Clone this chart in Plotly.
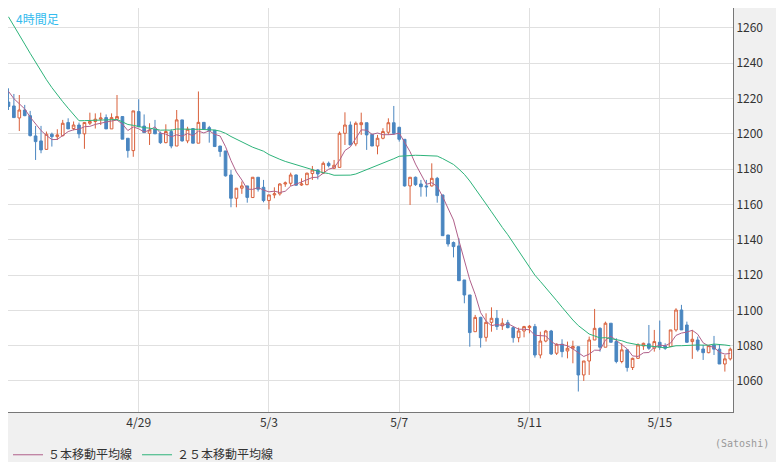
import pandas as pd
from plotly import graph_objects as go

# 4-hour candles, first one at 2024-04-25 00:00
start = "2024-04-25 00:00"

opens = [
    1218, 1215.8, 1209, 1213.5, 1210.3, 1198.8, 1196, 1191.2, 1199.8, 1198.4,
    1199, 1206.4, 1203, 1205, 1200, 1206, 1207, 1208.3, 1209.2, 1202.8,
    1208.3, 1209.8, 1197.5, 1190.5, 1212.6, 1204.4, 1200.3, 1202.6, 1200.3, 1195,
    1201.3, 1193.1, 1207.9, 1196, 1203, 1194.7, 1206.5, 1203.5, 1202, 1193.1,
    1190.3, 1176.7, 1163.5, 1169.2, 1170.5, 1163.9, 1175.4, 1169.7, 1162.2, 1165.4,
    1166, 1171.6, 1172, 1176.7, 1171, 1171.2, 1177.5, 1179.5, 1177.7, 1183.3,
    1180.5, 1181, 1200.3, 1205, 1194.3, 1205.2, 1206.3, 1199.7, 1193.1, 1197.5,
    1200.9, 1206.3, 1203.7, 1196.9, 1170.5, 1175.4, 1171.6, 1170.5, 1170.5, 1174.8,
    1165.4, 1142.7, 1138.4, 1136.5, 1117.2, 1108.7, 1087.9, 1096, 1084.7, 1093.2,
    1095.5, 1091.2, 1093, 1090.2, 1084.5, 1088.3, 1090.2, 1090.8, 1074.7, 1082.6,
    1088.3, 1075.7, 1080.8, 1077, 1078.5, 1079.4, 1063.4, 1071.3, 1083.2, 1089.8,
    1079.1, 1092.7, 1082.3, 1071, 1077.6, 1067.6, 1072.8, 1079.8, 1081, 1078.5,
    1081.9, 1079.8, 1079.5, 1088.9, 1100.2, 1091.7, 1082.3, 1083.2, 1078.1, 1076,
    1080.4, 1078, 1069.6, 1072.5,
]
highs = [
    1225.8, 1222.6, 1222, 1216.4, 1213, 1204.5, 1204.5, 1201.3, 1200.7, 1202.6,
    1207.9, 1208.8, 1207, 1206.4, 1206.4, 1212, 1211.6, 1212, 1211, 1211.6,
    1222, 1209.8, 1197.5, 1213, 1219.6, 1211, 1206, 1207.9, 1201.3, 1205.4,
    1202.6, 1213.5, 1207.9, 1204, 1203, 1224, 1206.5, 1204.5, 1202, 1193.1,
    1190.3, 1179.5, 1169.2, 1173, 1170.5, 1175.4, 1175.4, 1173.9, 1165.4, 1169.7,
    1172, 1173, 1178, 1177, 1174.8, 1178, 1181.8, 1180, 1184.3, 1184.3,
    1185.2, 1201.3, 1212.2, 1207, 1207, 1212, 1206.3, 1199.7, 1199.4, 1203.2,
    1208.8, 1215.8, 1204, 1196.9, 1175.4, 1175.8, 1173.9, 1173.9, 1183.3, 1175.6,
    1165.4, 1142.7, 1139, 1140.8, 1117.2, 1108.7, 1097.4, 1096.4, 1098.3, 1101.7,
    1100.2, 1095.5, 1094.6, 1090.8, 1090.2, 1091.2, 1091.7, 1092.3, 1087.9, 1088.9,
    1088.9, 1081.3, 1083.6, 1082.3, 1082.8, 1079.4, 1071.3, 1085.1, 1100.8, 1090.4,
    1093.6, 1092.7, 1084.2, 1081.3, 1077.6, 1073.2, 1081.3, 1081.7, 1091.7, 1088.9,
    1094.2, 1081.3, 1088.9, 1101.2, 1103.1, 1093.6, 1088.9, 1085.1, 1080.4, 1080.4,
    1085.5, 1080.4, 1074.7, 1078.9,
]
lows = [
    1213.5, 1209, 1201.6, 1210, 1198.5, 1185.2, 1189, 1191, 1192.8, 1196.5,
    1198.5, 1202.8, 1202, 1197.5, 1191.5, 1205, 1203, 1205, 1202.8, 1202.8,
    1208, 1197, 1186.5, 1187, 1204, 1200.7, 1193.7, 1200, 1194.3, 1194.7,
    1191.8, 1193.1, 1195.6, 1194.7, 1194.7, 1194.7, 1202.2, 1195, 1192.8, 1187,
    1175.8, 1158.4, 1158.4, 1166, 1161, 1163.9, 1167.3, 1161.2, 1157.2, 1163.5,
    1165, 1170, 1170.5, 1170.5, 1170.5, 1170.9, 1173.9, 1174.2, 1177.3, 1181,
    1180, 1181, 1193.7, 1193.7, 1193, 1199.4, 1190.9, 1193.1, 1188.4, 1196.9,
    1199.4, 1199.4, 1195.6, 1170.1, 1159.7, 1170.5, 1164.4, 1164.4, 1170.1, 1161,
    1142.3, 1136.1, 1130, 1116.8, 1104, 1079.4, 1087.9, 1078.9, 1082.3, 1087.9,
    1088.9, 1088.9, 1089.8, 1081.7, 1081.9, 1084.7, 1087, 1073.2, 1072.8, 1081.9,
    1074.7, 1074.7, 1073.4, 1072.8, 1070, 1054, 1060, 1063.4, 1083.2, 1076.6,
    1079.1, 1081.9, 1070, 1070, 1065.3, 1066.2, 1072.5, 1077.6, 1077.6, 1076.6,
    1077.6, 1077.6, 1079.5, 1087.9, 1088.9, 1081.7, 1072.5, 1076.6, 1071.9, 1075.7,
    1074.7, 1069.6, 1065.3, 1071.6,
]
closes = [
    1215.5, 1209.2, 1213.5, 1210.3, 1199, 1195.6, 1190.9, 1199.8, 1198.4, 1199.4,
    1206, 1202.8, 1205, 1200, 1206.4, 1207, 1208.3, 1209, 1202.8, 1209.2,
    1209.8, 1197, 1190.5, 1213, 1204, 1200.7, 1202.2, 1200, 1195, 1201.3,
    1193.1, 1207.9, 1196, 1202.6, 1194.7, 1206.5, 1202.8, 1201.8, 1192.8, 1190,
    1176.2, 1163.5, 1169.2, 1170.5, 1164, 1175.4, 1168.6, 1162.2, 1165.4, 1166,
    1171.6, 1172.2, 1176.7, 1170.9, 1171.6, 1177.7, 1179.5, 1177.3, 1183.3, 1182,
    1182.2, 1200.3, 1205, 1193.7, 1206, 1206.3, 1199.4, 1193.1, 1197.5, 1201.3,
    1206.3, 1200.3, 1196.9, 1170.5, 1175.4, 1171.2, 1170, 1170, 1174.8, 1165,
    1142.3, 1137.6, 1136.1, 1116.8, 1108.7, 1087.4, 1096, 1084.5, 1093.2, 1095.5,
    1090.8, 1092.7, 1090.2, 1084.5, 1088.3, 1090.8, 1091, 1074.7, 1082.6, 1088.3,
    1075.3, 1080.8, 1076.6, 1078.5, 1079.5, 1063.4, 1071.3, 1083.2, 1089.8, 1079.1,
    1092.7, 1081.9, 1071, 1077.6, 1067.6, 1072.8, 1080.4, 1081.3, 1078.5, 1082.3,
    1079.1, 1078.5, 1088.9, 1100.2, 1088.9, 1081.9, 1083.6, 1077.6, 1076, 1080,
    1078, 1069.6, 1072.5, 1078,
]
# closes of the 24 candles before the visible window (only feed the averages)
prior_closes = [
    1345, 1340, 1335, 1330, 1325, 1320, 1315, 1310, 1305, 1300, 1295, 1290, 1293,
    1205, 1205, 1205, 1205, 1205, 1205, 1205, 1230, 1228, 1225, 1222,
]

tick_dates = ["2024-04-29", "2024-05-03", "2024-05-07", "2024-05-11", "2024-05-15"]
tick_text = ["4/29", "5/3", "5/7", "5/11", "5/15"]

times = pd.date_range(start, periods=len(closes), freq="4h")
all_close = pd.Series(prior_closes + closes)
ma5 = all_close.rolling(5).mean().iloc[len(prior_closes):].values
ma25 = all_close.rolling(25).mean().iloc[len(prior_closes):].values

font_jp = "Noto Sans CJK JP"

fig = go.Figure()
fig.add_trace(
    go.Candlestick(
        x=times, open=opens, high=highs, low=lows, close=closes,
        increasing=dict(line=dict(color="#d9603b", width=1), fillcolor="white"),
        decreasing=dict(line=dict(color="#4a86c0", width=1), fillcolor="#4a86c0"),
        whiskerwidth=0,
        showlegend=False,
    )
)
fig.add_trace(
    go.Scatter(x=times, y=ma5, mode="lines", name="５本移動平均線",
               line=dict(color="#b0608a", width=1))
)
fig.add_trace(
    go.Scatter(x=times, y=ma25, mode="lines", name="２５本移動平均線",
               line=dict(color="#2db37a", width=1))
)

# the page adds an 8px body margin, so the figure is placed to land on the reference
fig.update_layout(
    width=784,
    height=462,
    margin=dict(l=0, r=59, t=0, b=58),
    paper_bgcolor="#f0f0f0",
    plot_bgcolor="white",
    font=dict(family=font_jp, size=12, color="#333"),
    legend=dict(orientation="h", x=0.0, y=-0.07, xanchor="left", yanchor="top",
                font=dict(size=12, color="#333"), bgcolor="rgba(0,0,0,0)",
                itemwidth=30),
    xaxis=dict(
        range=["2024-04-24 23:40", "2024-05-17 06:00"],
        rangeslider=dict(visible=False),
        tickvals=tick_dates, ticktext=tick_text,
        showgrid=True, gridcolor="#e0e0e0",
        showline=True, linecolor="#777", mirror=True,
        ticks="", tickfont=dict(size=12, color="#333"),
    ),
    yaxis=dict(
        range=[1042.4, 1271.3],
        side="right",
        tickvals=list(range(1060, 1261, 20)),
        showgrid=True, gridcolor="#e0e0e0",
        showline=True, linecolor="#777", mirror=True,
        ticks="", tickfont=dict(size=12, color="#333"),
    ),
    annotations=[
        dict(text="4時間足", xref="paper", yref="paper", x=0.008, y=1.0,
             xanchor="left", yanchor="top", showarrow=False,
             font=dict(size=12, color="#33bbee", family=font_jp)),
        dict(text="(Satoshi)", xref="paper", yref="paper", x=1.052, y=-0.06,
             xanchor="right", yanchor="top", showarrow=False,
             font=dict(size=10, color="#999", family="DejaVu Sans Mono")),
    ],
)

fig.write_html("out.html")
